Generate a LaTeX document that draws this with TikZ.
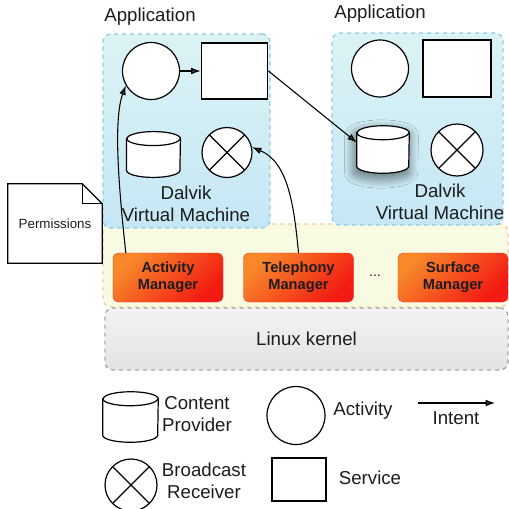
\documentclass[tikz,border=0pt]{standalone}
\usepackage{fontspec}
\setmainfont{Liberation Sans}
\usetikzlibrary{shapes.geometric,arrows.meta,shadows.blur}
\definecolor{apptop}{HTML}{DBF3F4}
\definecolor{appbot}{HTML}{C6E7F6}
\definecolor{appline}{HTML}{8CCBE6}
\definecolor{layfill}{HTML}{F8FAE2}
\definecolor{layline}{HTML}{F3C9A2}
\definecolor{mgrA}{HTML}{F8882A}
\definecolor{mgrM}{HTML}{F6401C}
\definecolor{mgrB}{HTML}{F21A12}
\definecolor{kertop}{HTML}{F3F3F3}
\definecolor{kerbot}{HTML}{E3E3E3}
\definecolor{kerline}{HTML}{A8A8A8}
\definecolor{txt}{HTML}{1C1C1C}
\tikzset{
  comp/.style={draw,line width=0.9pt,fill=white,inner sep=0pt},
  actv/.style={comp,circle,minimum size=42.75pt},
  serv/.style={comp,rectangle,minimum width=50pt,minimum height=42pt},
  prov/.style={inner sep=0pt,minimum width=40pt,minimum height=34pt},
  recv/.style={comp,circle,minimum size=37.5pt,path picture={
    \draw[line width=0.9pt] (path picture bounding box.north west) -- (path picture bounding box.south east)
      (path picture bounding box.north east) -- (path picture bounding box.south west);}},
  noglow/.style={},
  cpglow/.style={blur shadow={shadow xshift=-1pt,shadow yshift=-3pt,shadow scale=1.12,shadow blur steps=10,shadow blur radius=5pt,shadow opacity=42}},
  appbox/.style={draw=appline,line width=1pt,dashed,rounded corners=6pt,top color=apptop,bottom color=appbot},
  mgr/.style={rounded corners=4pt,draw=mgrB!90!orange,line width=0.3pt,left color=mgrA,middle color=mgrM,right color=mgrB,shading angle=45,
    minimum width=82.5pt,minimum height=36.75pt,align=center,font=\fontsize{11}{12.5}\selectfont\bfseries,text=txt},
  lbl/.style={font=\fontsize{14}{16.5}\selectfont,text=txt,align=center},
}
\begin{document}
\begin{tikzpicture}[x=0.75pt,y=-0.75pt,>={Latex[length=7pt,width=5pt]}]
\useasboundingbox (0,0) rectangle (509,508);
\node[draw=layline,line width=1pt,dashed,rounded corners=6pt,fill=layfill,minimum width=303.75pt,minimum height=62.25pt] at (305.5,265.5)(fw){};
\node[draw=kerline,line width=1pt,dashed,rounded corners=6pt,top color=kertop,bottom color=kerbot,minimum width=302.25pt,minimum height=46.5pt,lbl] at (306.5,339)(kernel){Linux kernel};
\node[appbox,minimum width=125.25pt,minimum height=145.5pt] at (186.5,131)(app1){};
\node[appbox,minimum width=128.25pt,minimum height=144pt] at (417.5,129)(app2){};
\node[lbl] at (150,17)(appname1){Application};
\node[lbl] at (380,14)(appname2){Application};
\node[actv] at (151,71)(act1){};
\node[serv] at (234.5,71)(srv1){};
\node[prov] at (153.5,154.5)(cp1){};
\node[recv] at (227,152.5)(br1){};
\node[lbl] at (186,204)(vm1){Dalvik\\Virtual Machine};
\node[actv] at (380,68.5)(act2){};
\node[serv,minimum width=51pt,minimum height=42.75pt] at (457,68.5)(srv2){};
\node[prov,minimum width=39pt,minimum height=35.25pt] at (383,149.5)(cp2){};
\node[recv,minimum size=39pt] at (457,150)(br2){};
\node[lbl] at (440,202)(vm2){Dalvik\\Virtual Machine};
\node[mgr] at (168,277.5)(am){Activity\\Manager};
\node[mgr] at (298.5,277.5)(tm){Telephony\\Manager};
\node[mgr] at (453,277.5)(sm){Surface\\Manager};
\node[text=txt,font=\fontsize{10.5}{12}\selectfont] at (375,276)(dots){...};
\node[minimum width=70.5pt,minimum height=59.25pt] at (55,223.5)(perm){};
\draw[line width=0.9pt,fill=white] (perm.south west) -- (perm.north west) -- ([xshift=-15pt]perm.north east) -- ([yshift=-15pt]perm.north east) -- (perm.south east) -- cycle;
\draw[line width=0.9pt] ([xshift=-15pt]perm.north east) -- ([xshift=-15pt,yshift=-15pt]perm.north east) -- ([yshift=-15pt]perm.north east);
\node[font=\fontsize{10}{12}\selectfont,text=txt] at (perm)(permname){Permissions};
\node[prov,minimum width=41.25pt,minimum height=37.5pt] at (130.5,417)(keycp){};
\foreach \c/\r/\s in {cp1/20pt/noglow,cp2/19.5pt/cpglow,keycp/20.6pt/noglow}{
  \draw[line width=0.9pt,fill=white,\s] ([yshift=-5.25pt]\c.north west) -- ([yshift=5.25pt]\c.south west)
    arc[start angle=180,end angle=360,x radius=\r,y radius=5.25pt] -- ([yshift=-5.25pt]\c.north east)
    arc[start angle=0,end angle=180,x radius=\r,y radius=5.25pt] -- cycle;
  \draw[line width=0.9pt] ([yshift=-5.25pt]\c.north west) arc[start angle=180,end angle=360,x radius=\r,y radius=5.25pt];
}
\draw[->,line width=0.8pt] (act1) -- (srv1);
\draw[->,line width=0.8pt] (srv1.east) -- (cp2.165);
\draw[->,line width=0.8pt] ([xshift=9.75pt]am.north west) .. controls (119,190) and (113,120) .. (act1.210);
\draw[->,line width=0.8pt] (tm.north) .. controls (294,205) and (288,162) .. (br1.12);
\node[lbl] at (197,414)(keycpname){Content\\Provider};
\node[actv,minimum size=43.5pt] at (296,415.5)(keyact){};
\node[lbl] at (363,411)(keyactname){Activity};
\coordinate (keyi1) at (418,403);
\coordinate (keyi2) at (495,403);
\draw[->,line width=0.8pt] (keyi1) -- (keyi2);
\node[lbl] at (456,418)(keyiname){Intent};
\node[recv,minimum size=39pt] at (131,485)(keybr){};
\node[lbl] at (204,481)(keybrname){Broadcast\\Receiver};
\node[serv,minimum width=40.5pt,minimum height=32.25pt] at (299,479.5)(keysrv){};
\node[lbl] at (370,478)(keysrvname){Service};
\end{tikzpicture}
\end{document}
